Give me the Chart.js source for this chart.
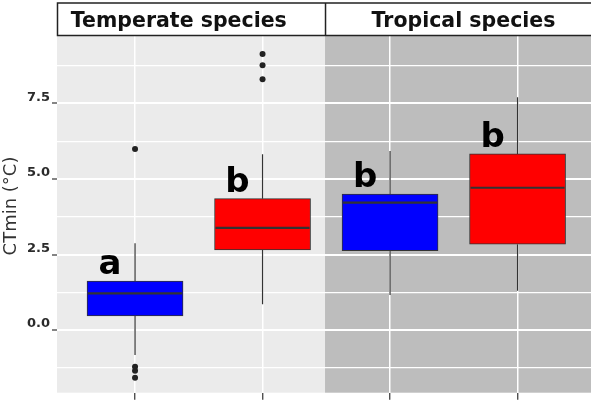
<!DOCTYPE html>
<html>
<head>
<meta charset="utf-8">
<script src="https://cdn.jsdelivr.net/npm/chart.js@4"></script>
<style>
  html, body { margin: 0; padding: 0; background: #ffffff; }
  canvas { display: block; }
</style>
</head>
<body>
<canvas id="c" width="591" height="400"></canvas>
<script>
// ---- data ----
const facets = ['Temperate species', 'Tropical species'];
const groups = ['Temperate A', 'Temperate B', 'Tropical A', 'Tropical B'];
const xPos = [1, 2, 3, 4];
const whiskerLow = [-0.83, 0.85, 1.16, 1.30];
const q1 = [0.47, 2.65, 2.63, 2.84];
const median = [1.21, 3.38, 4.22, 4.71];
const q3 = [1.62, 4.35, 4.50, 5.83];
const whiskerHigh = [2.87, 5.82, 5.93, 7.71];
const outlierValues = [[5.99, -1.22, -1.35, -1.58], [8.30, 8.77, 9.14], [], []];
const letters = ['a', 'b', 'b', 'b'];
const boxColors = ['#0000ff', '#ff0000', '#0000ff', '#ff0000'];
const yTickStep = 1.25;
const yMajorStep = 2.5;

// ---- layout constants ----
const X_MIN = 0.388, X_MAX = 4.576, PANEL_SPLIT = 2.49;
const Y_MIN = -2.076, Y_MAX = 9.735;
const STRIP_TEXT_X = [178.8, 463.5];

const isMajor = v => Math.abs((v / yMajorStep) - Math.round(v / yMajorStep)) < 1e-6;

const boxData = xPos.map((x, i) => ({ x: x, y: [q1[i], q3[i]] }));
const whiskerData = [];
xPos.forEach((x, i) => {
  whiskerData.push({ x: x, y: whiskerLow[i] }, { x: x, y: q1[i] }, { x: x, y: null });
  whiskerData.push({ x: x, y: q3[i] }, { x: x, y: whiskerHigh[i] }, { x: x, y: null });
});
const outlierData = [];
xPos.forEach((x, i) => outlierValues[i].forEach(v => outlierData.push({ x: x, y: v })));

const panelPlugin = {
  id: 'panels',
  beforeDraw(chart) {
    const { ctx, chartArea: a, scales } = chart;
    const split = scales.x.getPixelForValue(PANEL_SPLIT);
    ctx.save();
    ctx.fillStyle = '#ebebeb';
    ctx.fillRect(a.left, a.top, split - a.left, a.bottom - a.top);
    ctx.fillStyle = '#bdbdbd';
    ctx.fillRect(split, a.top, a.right - split, a.bottom - a.top);
    ctx.restore();
  },
  afterDatasetsDraw(chart) {
    const { ctx, scales } = chart;
    const meta = chart.getDatasetMeta(0);
    ctx.save();
    ctx.strokeStyle = '#333333';
    ctx.lineWidth = 2.2;
    meta.data.forEach((el, i) => {
      const y = scales.y.getPixelForValue(median[i]);
      ctx.beginPath();
      ctx.moveTo(el.x - el.width / 2 + 1, y);
      ctx.lineTo(el.x + el.width / 2 - 1, y);
      ctx.stroke();
    });
    ctx.fillStyle = '#000000';
    ctx.font = 'bold 34px "DejaVu Sans"';
    ctx.textAlign = 'center';
    ctx.textBaseline = 'alphabetic';
    letters.forEach((t, i) => {
      const x = scales.x.getPixelForValue(xPos[i]) - 25;
      const y = scales.y.getPixelForValue(q3[i]) - 7;
      ctx.fillText(t, x, y);
    });
    ctx.restore();
  },
  afterDraw(chart) {
    const { ctx, chartArea: a, scales } = chart;
    const split = scales.x.getPixelForValue(PANEL_SPLIT);
    ctx.save();
    // strip
    ctx.fillStyle = '#ffffff';
    ctx.fillRect(a.left, 3, a.right - a.left + 2, 32.5);
    ctx.strokeStyle = '#222222';
    ctx.lineWidth = 1.5;
    ctx.strokeRect(a.left + 0.5, 3, a.right - a.left + 4, 32.5);
    ctx.beginPath();
    ctx.moveTo(split + 0.5, 3);
    ctx.lineTo(split + 0.5, 35.5);
    ctx.stroke();
    ctx.fillStyle = '#111111';
    ctx.font = 'bold 20.5px "DejaVu Sans"';
    ctx.textAlign = 'center';
    ctx.textBaseline = 'alphabetic';
    facets.forEach((f, i) => ctx.fillText(f, STRIP_TEXT_X[i], 27));
    // y title
    ctx.translate(11, 206);
    ctx.rotate(-Math.PI / 2);
    ctx.font = '18px "DejaVu Sans"';
    ctx.fillStyle = '#333333';
    ctx.textBaseline = 'middle';
    ctx.fillText('CTmin (°C)', 0, 0);
    ctx.restore();
  }
};

new Chart(document.getElementById('c'), {
  type: 'bar',
  data: {
    datasets: [
      {
        type: 'bar',
        label: 'box',
        data: boxData,
        backgroundColor: boxColors,
        borderColor: '#333333',
        borderWidth: 1,
        borderSkipped: false,
        barThickness: 96,
        order: 1
      },
      {
        type: 'line',
        label: 'whiskers',
        data: whiskerData,
        borderColor: '#333333',
        borderWidth: 1.2,
        pointRadius: 0,
        spanGaps: false,
        fill: false,
        order: 2
      },
      {
        type: 'scatter',
        label: 'outliers',
        data: outlierData,
        backgroundColor: '#222222',
        borderColor: '#222222',
        pointRadius: 3,
        borderWidth: 0,
        order: 0
      }
    ]
  },
  options: {
    responsive: false,
    animation: false,
    devicePixelRatio: 1,
    layout: { autoPadding: false, padding: { top: 36, right: 0, left: 0, bottom: 0 } },
    plugins: { legend: { display: false }, tooltip: { enabled: false } },
    scales: {
      x: {
        type: 'linear',
        min: X_MIN,
        max: X_MAX,
        offset: false,
        afterFit(s) { s.height = 7.3; s.paddingLeft = 0; s.paddingRight = 0; },
        border: { display: false },
        grid: {
          offset: false,
          color: '#ffffff',
          lineWidth: 1.5,
          tickColor: '#333333',
          tickLength: 7,
          tickWidth: 1.2
        },
        ticks: { stepSize: 1, includeBounds: false, display: false, autoSkip: false }
      },
      y: {
        type: 'linear',
        min: Y_MIN,
        max: Y_MAX,
        afterFit(s) { s.width = 57; s.paddingTop = 0; s.paddingBottom = 0; },
        border: { display: false },
        grid: {
          color: '#ffffff',
          lineWidth: c => (c.tick && isMajor(c.tick.value)) ? 2 : 1.2,
          tickColor: c => (c.tick && isMajor(c.tick.value)) ? '#333333' : 'rgba(0,0,0,0)',
          tickLength: 5,
          tickWidth: 1.2
        },
        ticks: {
          stepSize: yTickStep,
          includeBounds: false,
          autoSkip: false,
          padding: 2,
          labelOffset: -6,
          color: '#2b2b2b',
          font: { family: '"DejaVu Sans"', size: 13, weight: 'bold' },
          callback: v => isMajor(v) ? v.toFixed(1) : ''
        }
      }
    }
  },
  plugins: [panelPlugin]
});
</script>
</body>
</html>
